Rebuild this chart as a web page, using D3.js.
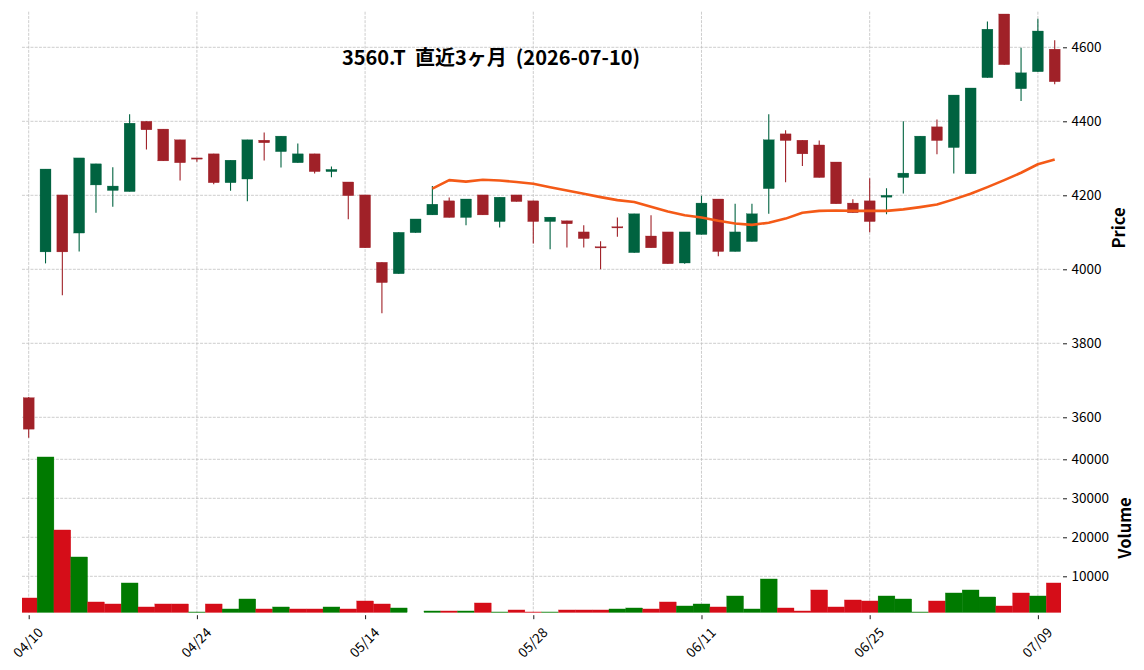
<!DOCTYPE html>
<html><head><meta charset="utf-8">
<script src="https://cdn.jsdelivr.net/npm/d3@7"></script>
<style>
body{margin:0;background:#fff}
svg{display:block}
text{font-family:"Noto Sans CJK JP","Noto Sans",sans-serif}
</style>
</head><body>
<svg id="c" width="1144" height="670"></svg>
<script>
const dates = ["04/10","04/13","04/14","04/15","04/16","04/17","04/20","04/21","04/22","04/23","04/24",
"04/27","04/28","04/30","05/01","05/07","05/08","05/11","05/12","05/13","05/14",
"05/15","05/18","05/19","05/20","05/21","05/22","05/25","05/26","05/27","05/28",
"05/29","06/01","06/02","06/03","06/04","06/05","06/08","06/09","06/10","06/11",
"06/12","06/15","06/16","06/17","06/18","06/19","06/22","06/23","06/24","06/25",
"06/26","06/29","06/30","07/01","07/02","07/03","07/06","07/07","07/08","07/09","07/10"];
const opens  = [3653,4047,4201,4098,4228,4213,4210,4400,4379,4350,4301,4312,4234,4244,4349,4318,4288,4312,4264,4236,4201,4019,3988,4099,4147,4185,4140,4201,4129,4201,4185,4129,4131,4101,4061,4115,4045,4090,4101,4017,4094,4190,4048,4075,4218,4366,4349,4336,4290,4179,4185,4195,4248,4258,4385,4329,4258,4518,4690,4488,4534,4595];
const highs  = [3655,4271,4201,4301,4285,4276,4419,4400,4379,4350,4301,4312,4295,4350,4370,4360,4340,4312,4278,4236,4201,4019,4100,4136,4225,4194,4190,4201,4195,4201,4185,4141,4131,4119,4076,4140,4150,4146,4101,4101,4199,4190,4177,4177,4419,4376,4349,4348,4290,4189,4246,4219,4400,4360,4405,4471,4490,4670,4690,4599,4677,4619];
const lows   = [3545,4016,3930,4048,4153,4169,4210,4324,4293,4240,4291,4230,4212,4184,4294,4275,4288,4259,4249,4135,4058,3881,3988,4099,4147,4140,4119,4147,4113,4183,4070,4054,4059,4059,4000,4088,4045,4058,4015,4015,4094,4035,4048,4075,4150,4235,4279,4248,4177,4153,4100,4149,4205,4258,4311,4259,4258,4518,4553,4455,4534,4500];
const closes = [3568,4271,4047,4301,4285,4225,4395,4377,4293,4288,4299,4234,4295,4350,4342,4360,4312,4264,4270,4199,4058,3964,4100,4136,4176,4140,4190,4147,4195,4183,4129,4141,4123,4083,4059,4112,4150,4058,4015,4101,4179,4048,4101,4150,4350,4348,4312,4248,4177,4153,4129,4200,4260,4360,4348,4471,4490,4649,4553,4531,4644,4507];
const volumes = [4444,40598,21880,14957,3419,2906,8291,2137,2906,2906,855,2906,1624,4188,1624,2137,1624,1624,2137,1624,3675,2906,1880,600,1111,1111,1111,3162,855,1368,855,855,1368,1368,1368,1624,1880,1624,3419,2393,2906,2137,4957,1624,9316,1880,1111,6496,2137,3932,3675,4957,4188,855,3675,5726,6496,4701,2393,5726,4957,8291];
const ma25 = [null,null,null,null,null,null,null,null,null,null,null,null,null,null,null,null,null,null,null,null,null,null,null,null,
4218,4241,4237,4242,4240,4236,4231,4222,4213,4204,4195,4187,4182,4169,4156,4146,4140,4131,4124,4120,4126,4137,4153,4158,4159,4158,4158,4158,4162,4168,4175,4189,4204,4222,4241,4261,4284,4297];
const xTickIdx = [0,10,20,30,40,50,60];
const priceTicks = [3600,3800,4000,4200,4400,4600];
const volTicks = [10000,20000,30000,40000];
const title = "3560.T  直近3ヶ月  (2026-07-10)";

const UP="#006340", DN="#A02128", VUP="#007a00", VDN="#d50d18", MA="#f45a17";
const plotL=22, plotR=1061;
const pTop=11.7, pBot=440, vTop=441, vBot=612.7;

const svg = d3.select("#c");
svg.append("rect").attr("width",1144).attr("height",670).attr("fill","#fff");

const x = d3.scaleLinear().domain([0,61]).range([28.7,1054.7]);
const step = x(1)-x(0);
const y = d3.scaleLinear().domain([3600,4600]).range([417.3,47.3]);
const yv = d3.scaleLinear().domain([0,40000]).range([615.3,459.3]);

const defs = svg.append("defs");
defs.append("clipPath").attr("id","cp").append("rect").attr("x",plotL).attr("y",pTop).attr("width",plotR-plotL).attr("height",pBot-pTop);
defs.append("clipPath").attr("id","cv").append("rect").attr("x",plotL).attr("y",vTop).attr("width",plotR-plotL).attr("height",vBot-vTop);

const gridStyle = g => g.attr("stroke","#c0c0c0").attr("stroke-width",0.8).attr("stroke-dasharray","2.96,1.28").attr("fill","none");

// grids
const grid = svg.append("g").call(gridStyle);
grid.selectAll(".hp").data(priceTicks).join("line").attr("x1",plotL).attr("x2",plotR).attr("y1",d=>y(d)).attr("y2",d=>y(d));
grid.selectAll(".hv").data(volTicks).join("line").attr("class","hv").attr("x1",plotL).attr("x2",plotR).attr("y1",d=>yv(d)).attr("y2",d=>yv(d));
grid.selectAll(".vp").data(xTickIdx).join("line").attr("class","vp").attr("x1",d=>x(d)).attr("x2",d=>x(d)).attr("y1",pTop).attr("y2",pBot);
grid.selectAll(".vv").data(xTickIdx).join("line").attr("class","vv").attr("x1",d=>x(d)).attr("x2",d=>x(d)).attr("y1",vTop).attr("y2",vBot);

const idx = d3.range(opens.length);

// candles
const pg = svg.append("g").attr("clip-path","url(#cp)");
const col = i => closes[i] >= opens[i] ? UP : DN;
pg.selectAll("line.wick").data(idx).join("line").attr("class","wick")
  .attr("x1",i=>x(i)).attr("x2",i=>x(i)).attr("y1",i=>y(highs[i])).attr("y2",i=>y(lows[i]))
  .attr("stroke",col).attr("stroke-width",1.1);
const bw = step*0.65;
pg.selectAll("rect.body").data(idx).join("rect").attr("class","body")
  .attr("x",i=>x(i)-bw/2).attr("width",bw)
  .attr("y",i=>y(Math.max(opens[i],closes[i])))
  .attr("height",i=>Math.max(1.2, Math.abs(y(opens[i])-y(closes[i]))))
  .attr("fill",col).attr("stroke",col).attr("stroke-width",0.3);

// moving average
const line = d3.line().defined(i=>ma25[i]!==null).x(i=>x(i)).y(i=>y(ma25[i])).curve(d3.curveLinear);
pg.append("path").datum(idx).attr("d",line).attr("fill","none").attr("stroke",MA).attr("stroke-width",2.6).attr("stroke-linejoin","round");

// volume
const vg = svg.append("g").attr("clip-path","url(#cv)");
const vcol = i => (i===0 ? closes[i] < opens[i] : closes[i] < closes[i-1]) ? VDN : VUP;
vg.selectAll("rect").data(idx).join("rect")
  .attr("x",i=>x(i)-step/2).attr("width",step)
  .attr("y",i=>Math.min(yv(volumes[i]),vBot))
  .attr("height",i=>Math.max(0, vBot - yv(volumes[i])))
  .attr("fill",vcol).attr("stroke",vcol).attr("stroke-width",0.3);

// axes
const fs = 13.5;
const pAx = svg.append("g").attr("transform",`translate(${plotR+2},0)`)
  .call(d3.axisRight(y).tickValues(priceTicks).tickSize(4).tickPadding(4.5).tickFormat(d3.format("d")));
const vAx = svg.append("g").attr("transform",`translate(${plotR+2},0)`)
  .call(d3.axisRight(yv).tickValues(volTicks).tickSize(4).tickPadding(4.5).tickFormat(d3.format("d")));
const xAx = svg.append("g").attr("transform",`translate(0,${vBot+2.5})`)
  .call(d3.axisBottom(x).tickValues(xTickIdx).tickSize(4).tickFormat(i=>dates[i]));
[pAx,vAx,xAx].forEach(a=>{
  a.select(".domain").remove();
  a.selectAll("line").attr("stroke","#000").attr("stroke-width",0.9);
  a.selectAll("text").attr("fill","#000").attr("font-size",fs).attr("font-family",'"Noto Sans CJK JP","Noto Sans",sans-serif');
});
xAx.selectAll("text").attr("y",0).attr("dy","0.35em").attr("text-anchor","middle")
  .attr("transform","translate(-1,27.5) rotate(-45)");

// axis labels
svg.append("text").attr("transform","translate(1118,228) rotate(-90)").attr("text-anchor","middle")
  .attr("dominant-baseline","central").attr("font-size",16.5).attr("font-weight","bold").text("Price");
svg.append("text").attr("transform","translate(1124,528) rotate(-90)").attr("text-anchor","middle")
  .attr("dominant-baseline","central").attr("font-size",16.5).attr("font-weight","bold").text("Volume");

// title
svg.append("text").attr("x",491).attr("y",56).attr("text-anchor","middle").attr("dominant-baseline","central")
  .attr("font-size",20).attr("font-weight","bold").style("white-space","pre").attr("xml:space","preserve").text(title);
</script>
</body></html>
